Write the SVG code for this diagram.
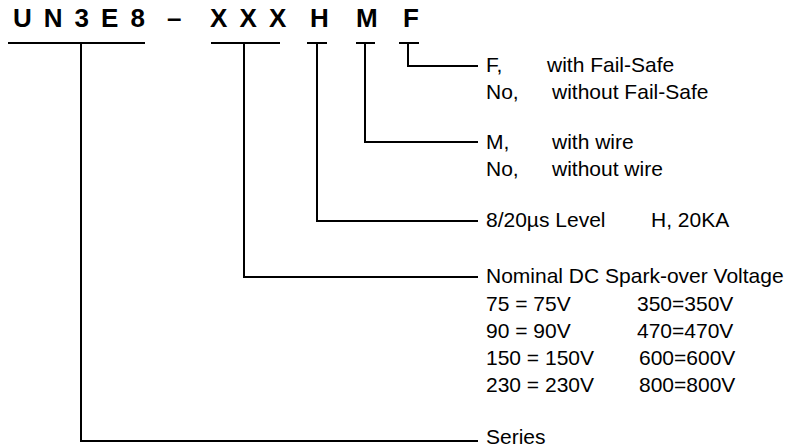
<svg xmlns="http://www.w3.org/2000/svg" width="788" height="448" viewBox="0 0 788 448">
<style>
.hd{font-family:"Liberation Sans",Arial,sans-serif;font-weight:bold;font-size:26px;fill:#000}
.t{font-family:"Liberation Sans",Arial,sans-serif;font-size:21px;fill:#000}
.ln{fill:none;stroke:#000;stroke-width:2}
</style>
<rect width="788" height="448" fill="#fff"/>
<g id="header">
<text class="hd" y="27" x="13 43.8 74.6 101.1 130.4 167 210 239.5 269 310 356 403">UN3E8–XXXHMF</text>
</g>
<g id="connectors">
<path class="ln" d="M8 43H145M81 43V441H478"/>
<path class="ln" d="M211 43H280M244 43V277H478"/>
<path class="ln" d="M307 43H327M317 43V221H478"/>
<path class="ln" d="M356 43H375M365 43V142H478"/>
<path class="ln" d="M399 43H419M408 43V66H478"/>
</g>
<g id="failsafe">
<text class="t" x="486" y="72">F,</text><text class="t" x="547" y="72">with Fail-Safe</text>
<text class="t" x="486" y="99">No,</text><text class="t" x="552" y="99">without Fail-Safe</text>
</g>
<g id="wire">
<text class="t" x="486" y="149">M,</text><text class="t" x="552" y="149">with wire</text>
<text class="t" x="486" y="176">No,</text><text class="t" x="552" y="176">without wire</text>
</g>
<g id="level">
<text class="t" x="486" y="227">8/20µs Level</text><text class="t" x="651" y="227">H, 20KA</text>
</g>
<g id="voltage">
<text class="t" x="486" y="283">Nominal DC Spark-over Voltage</text>
<text class="t" x="486" y="311">75 = 75V</text><text class="t" x="637" y="311">350=350V</text>
<text class="t" x="486" y="338">90 = 90V</text><text class="t" x="637" y="338">470=470V</text>
<text class="t" x="486" y="365">150 = 150V</text><text class="t" x="639" y="365">600=600V</text>
<text class="t" x="486" y="392">230 = 230V</text><text class="t" x="639" y="392">800=800V</text>
</g>
<g id="series">
<text class="t" x="486" y="444">Series</text>
</g>
</svg>
